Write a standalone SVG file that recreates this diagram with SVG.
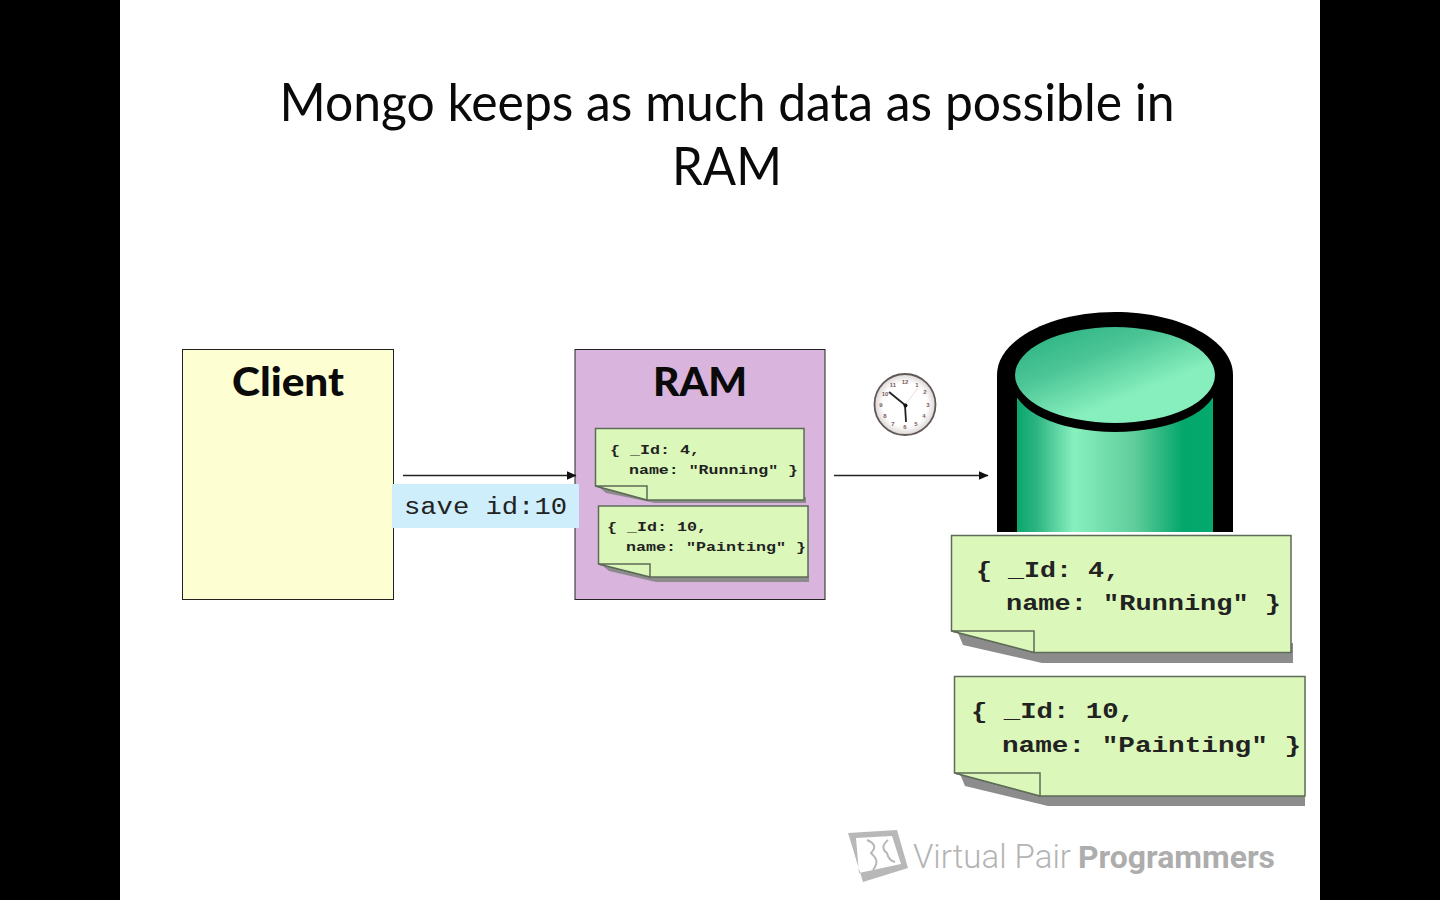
<svg xmlns="http://www.w3.org/2000/svg" width="1440" height="900" viewBox="0 0 1440 900">
<style>
.title{font-family:"Lato","Open Sans",sans-serif;font-size:52px;fill:#0a0a0a}
.head{font-family:"Lato","Open Sans",sans-serif;font-size:39px;font-weight:900;fill:#0a0a0a}
.code{font-family:"Liberation Mono",monospace;font-weight:700;fill:#222;white-space:pre}
.big{font-size:22.5px}
.small{font-size:13.5px}
.note{fill:#dbf7b9;stroke:#5d6b58;stroke-width:1.5}
.shadow{fill:#8c8c8c}
.fold{fill:#dbf7b9;stroke:#5d6b58;stroke-width:1.5}
.wire{stroke:#222;stroke-width:1.5;fill:none;marker-end:url(#arrow)}
.num{font-family:"Liberation Sans",sans-serif;font-size:6px;fill:#7d5c5c;text-anchor:middle;font-weight:700}
</style>
<defs>
<marker id="arrow" markerWidth="10" markerHeight="9" refX="9.500" refY="4.500" orient="auto" markerUnits="userSpaceOnUse" viewBox="0 0 10 9"><path d="M0 0L10 4.500L0 9Z" fill="#111"/></marker>
<linearGradient id="body" x1="0" x2="1" y1="0" y2="0">
<stop offset="0" stop-color="#0aa76c"/><stop offset="0.1" stop-color="#2db482"/><stop offset="0.29" stop-color="#88f0bf"/><stop offset="0.6" stop-color="#5fcd9b"/><stop offset="0.85" stop-color="#03a66b"/><stop offset="1" stop-color="#05a86d"/>
</linearGradient>
<linearGradient id="lid" x1="0.1" y1="0.1" x2="0.72" y2="0.85">
<stop offset="0" stop-color="#2fb585"/><stop offset="0.35" stop-color="#4cc596"/><stop offset="0.8" stop-color="#87efbd"/><stop offset="1" stop-color="#87efbd"/>
</linearGradient>
<radialGradient id="face"><stop offset="0.72" stop-color="#fff"/><stop offset="1" stop-color="#dcd6d6"/></radialGradient>
</defs>
<rect width="1440" height="900" fill="#fff"/>
<rect x="0" y="0" width="120" height="900" fill="#000"/>
<rect x="1320" y="0" width="120" height="900" fill="#000"/>
<text class="title" x="727" y="121" text-anchor="middle" textLength="895" lengthAdjust="spacingAndGlyphs">Mongo keeps as much data as possible in</text>
<text class="title" x="727" y="185" text-anchor="middle" textLength="110" lengthAdjust="spacingAndGlyphs">RAM</text>

<g id="client">
<rect x="182.500" y="349.500" width="211" height="250" fill="#fdfed2" stroke="#222" stroke-width="1"/>
<text class="head" x="232" y="396" textLength="112" lengthAdjust="spacingAndGlyphs">Client</text>
</g>

<g id="ram">
<rect x="575" y="349.500" width="250" height="250" fill="#d9b4dc" stroke="#222" stroke-width="1"/>
<text class="head" x="653" y="396" textLength="94" lengthAdjust="spacingAndGlyphs">RAM</text>
<g id="ram-note-4">
<path class="shadow" d="M600 488L606 493L655 503H806V497H647Z"/>
<path class="note" d="M595.500 428.500H804V500H647L595.500 486Z"/>
<path class="fold" d="M595.500 486H647V500Z"/>
<text class="code small" xml:space="preserve" x="610" y="454" textLength="90" lengthAdjust="spacingAndGlyphs">{ _Id: 4,</text>
<text class="code small" xml:space="preserve" x="629" y="474" textLength="169" lengthAdjust="spacingAndGlyphs">name: "Running" }</text>
</g>
<g id="ram-note-10">
<path class="shadow" d="M603 566L609 571L656 582H809V575H650Z"/>
<path class="note" d="M598.500 506H808V577H650L598.500 564Z"/>
<path class="fold" d="M598.500 564H650V577Z"/>
<text class="code small" xml:space="preserve" x="607" y="531" textLength="100" lengthAdjust="spacingAndGlyphs">{ _Id: 10,</text>
<text class="code small" xml:space="preserve" x="626" y="551" textLength="180" lengthAdjust="spacingAndGlyphs">name: "Painting" }</text>
</g>
</g>

<g id="connectors">
<line class="wire" x1="403" y1="475.500" x2="576" y2="475.500"/>
<line class="wire" x1="834" y1="475.500" x2="988" y2="475.500"/>
</g>

<g id="save-label">
<rect x="392" y="484" width="187" height="44" fill="#cfeefb"/>
<text class="code" style="font-weight:400;font-size:23px" x="404" y="514" textLength="163" lengthAdjust="spacingAndGlyphs">save id:10</text>
</g>

<g id="clock">
<circle cx="905" cy="404.500" r="30.500" fill="url(#face)" stroke="#625858" stroke-width="1.800"/>
<line x1="905" y1="405" x2="918" y2="388" stroke="#e8c8c8" stroke-width="0.700"/>
<line x1="905" y1="405" x2="889" y2="392" stroke="#222" stroke-width="1.800"/>
<line x1="905" y1="405" x2="906" y2="422" stroke="#222" stroke-width="1.800"/>
<circle cx="905.500" cy="405.500" r="2" fill="#111"/>
<text class="num" x="905" y="384">12</text><text class="num" x="917" y="387">1</text><text class="num" x="925" y="394">2</text>
<text class="num" x="928" y="407">3</text><text class="num" x="924" y="418">4</text><text class="num" x="916" y="426">5</text>
<text class="num" x="905" y="429">6</text><text class="num" x="893" y="426">7</text><text class="num" x="885" y="418">8</text>
<text class="num" x="881" y="407">9</text><text class="num" x="885" y="396">10</text><text class="num" x="893" y="387">11</text>
</g>

<g id="database">
<path d="M997 532V375C997 340 1050 312 1115 312C1180 312 1233 340 1233 375V532Z" fill="#000"/>
<rect x="1017" y="398" width="196" height="134" fill="url(#body)"/>
<ellipse cx="1115" cy="384" rx="102" ry="48" fill="#000"/>
<path d="M997 375H1017V402H997ZM1213 375H1233V402H1213Z" fill="#000"/>
<ellipse cx="1115" cy="375" rx="100" ry="48" fill="url(#lid)"/>
</g>

<g id="disk-note-4">
<path class="shadow" d="M958 633L963 645L1042 663H1293V643H1040Z"/>
<path class="note" d="M951.500 535.500H1291V652.500H1034L951.500 631Z"/>
<path class="fold" d="M951.500 631H1034V652.500Z"/>
<text class="code big" xml:space="preserve" x="976" y="577" textLength="144" lengthAdjust="spacingAndGlyphs">{ _Id: 4,</text>
<text class="code big" xml:space="preserve" x="1006" y="610" textLength="275" lengthAdjust="spacingAndGlyphs">name: "Running" }</text>
</g>
<g id="disk-note-10">
<path class="shadow" d="M960 774L965 786L1048 806H1305V790H1040Z"/>
<path class="note" d="M954.500 676.500H1305V796H1040L954.500 773Z"/>
<path class="fold" d="M954.500 773H1040V796Z"/>
<text class="code big" xml:space="preserve" x="971" y="718" textLength="164" lengthAdjust="spacingAndGlyphs">{ _Id: 10,</text>
<text class="code big" xml:space="preserve" x="1002" y="752" textLength="299" lengthAdjust="spacingAndGlyphs">name: "Painting" }</text>
</g>

<g id="logo">
<path fill-rule="evenodd" d="M848 833L897 830L908 868L863 882ZM856 838L859 873L901 864L892 836Z" fill="#b8b8b8"/>
<path d="M867 840C874 843 877 847 871 853C875 857 880 861 873 870M888 840C881 846 883 850 887 853C888 858 891 861 895 862" fill="none" stroke="#b8b8b8" stroke-width="2"/>
<text x="913" y="868" font-family="Roboto,sans-serif" font-weight="300" font-size="34" fill="#b4b4b4" textLength="158" lengthAdjust="spacingAndGlyphs">Virtual Pair</text>
<text x="1078" y="868" font-family="Roboto,sans-serif" font-weight="700" font-size="31" fill="#adadad" textLength="197" lengthAdjust="spacingAndGlyphs">Programmers</text>
</g>
</svg>
